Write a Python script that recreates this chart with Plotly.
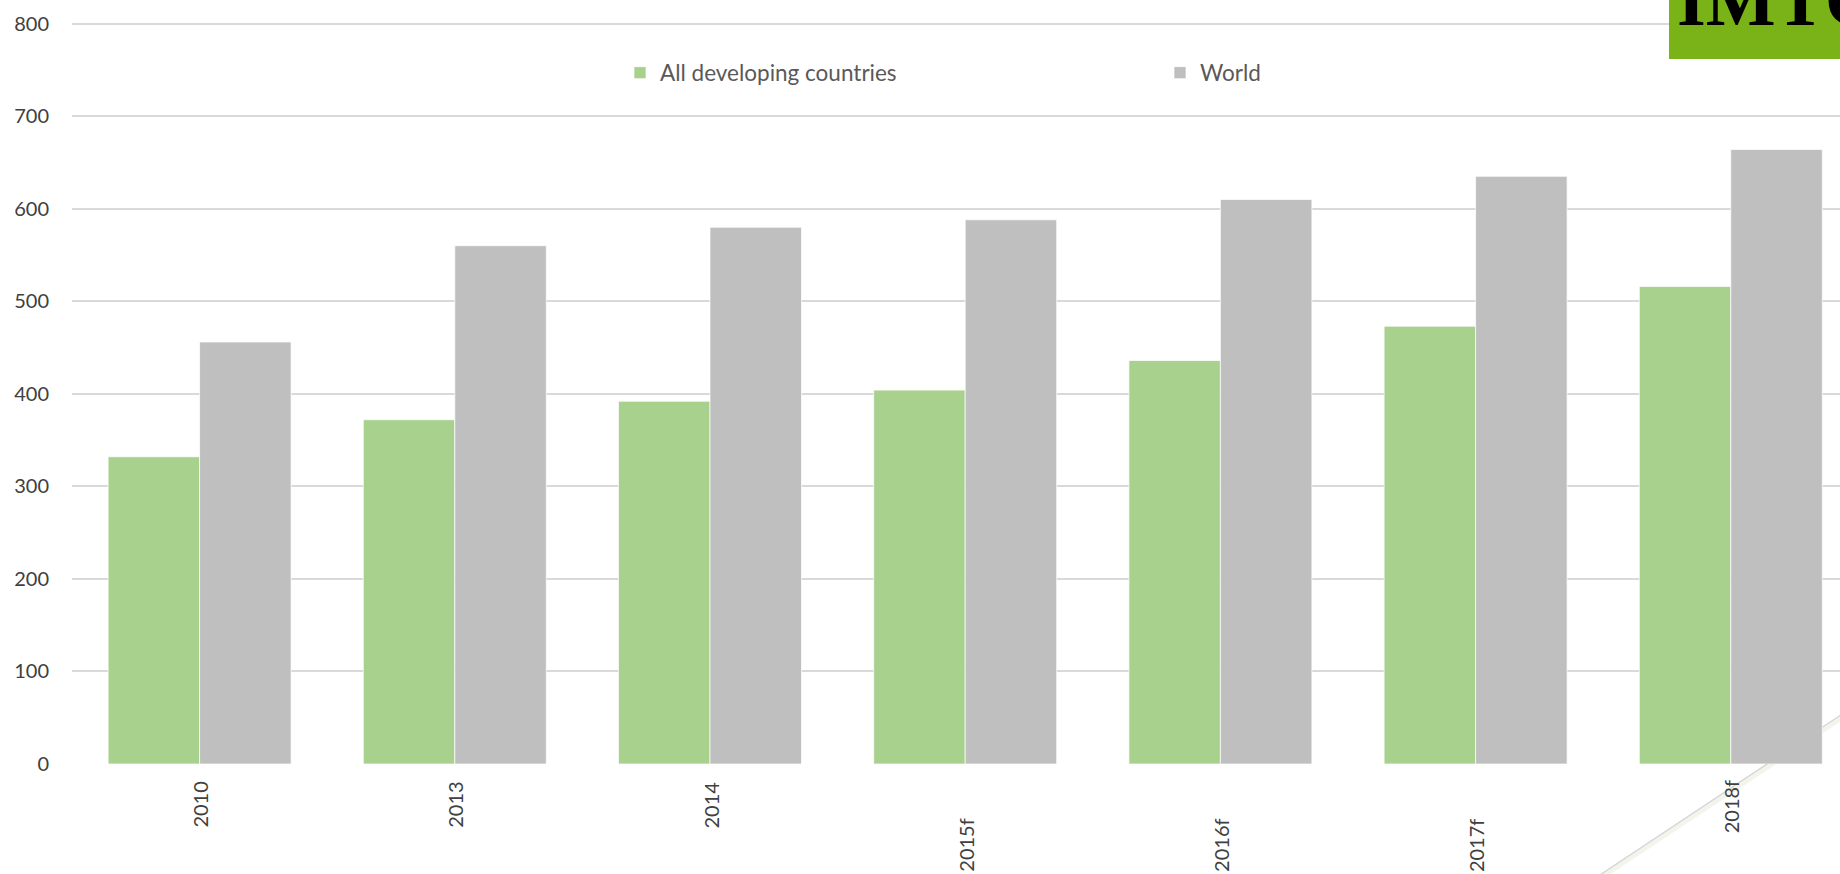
import plotly.graph_objects as go

categories = ["2010", "2013", "2014", "2015f", "2016f", "2017f", "2018f"]
developing = [332, 372, 392, 404, 436, 473, 516]
world = [456, 560, 580, 588, 610, 635, 664]
series_names = ["All developing countries", "World"]
y_ticks = [0, 100, 200, 300, 400, 500, 600, 700, 800]
logo_text = "IMTC"

# label vertical drop (px) below the axis, per category (style only)
label_drop = [16, 16, 16, 53, 53, 53, 14]

GREEN = "#A9D18E"
GRAY = "#BFBFBF"
W, H = 1840, 874
ML, MR, MT, MB = 72, 0, 19, 110
PW = W - ML - MR
PH = H - MT - MB


def px_x(p):
    return (p - ML) / PW


def px_y(p):
    return (H - MB - p) / PH


fig = go.Figure()
fig.add_trace(go.Bar(x=categories, y=developing, name=series_names[0],
                     marker=dict(color=GREEN, line=dict(color="rgba(255,255,255,0.7)", width=1))))
fig.add_trace(go.Bar(x=categories, y=world, name=series_names[1],
                     marker=dict(color=GRAY, line=dict(color="rgba(255,255,255,0.7)", width=1))))

annotations = []
for i, (cat, d) in enumerate(zip(categories, label_drop)):
    annotations.append(dict(x=i, y=0, xref="x", yref="y", text=cat, textangle=-90,
                            showarrow=False, yanchor="top", xanchor="center", yshift=-d,
                            font=dict(family="Lato", size=20, color="#404040")))
annotations.append(dict(x=px_x(1675), y=px_y(0), xref="paper", yref="paper", text="<b>%s</b>" % logo_text,
                        showarrow=False, xanchor="left", yanchor="middle",
                        font=dict(family="Liberation Serif", size=74, color="#000000")))

shapes = [
    dict(type="rect", xref="paper", yref="paper", x0=px_x(1669), x1=px_x(1850), y0=px_y(59), y1=px_y(-10),
         fillcolor="#7AB317", line=dict(width=0), layer="above"),
    dict(type="line", xref="paper", yref="paper", x0=px_x(1604), y0=px_y(876), x1=px_x(1860), y1=px_y(706),
         line=dict(color="#F1F5EC", width=4), layer="below"),
    dict(type="line", xref="paper", yref="paper", x0=px_x(1600), y0=px_y(875), x1=px_x(1856), y1=px_y(705),
         line=dict(color="#D6D6D6", width=1.5), layer="below"),
]

fig.update_layout(
    width=W, height=H,
    margin=dict(l=ML, r=MR, t=MT, b=MB, pad=0),
    paper_bgcolor="white",
    plot_bgcolor="rgba(0,0,0,0)",
    barmode="group",
    bargap=0.283,
    bargroupgap=0,
    showlegend=True,
    legend=dict(orientation="h", x=px_x(620), y=px_y(73), xanchor="left", yanchor="middle",
                entrywidth=495, entrywidthmode="pixels",
                font=dict(family="Lato", size=22.5, color="#595959"), bgcolor="rgba(0,0,0,0)"),
    xaxis=dict(type="category", range=[-0.5, -0.5 + PW / 255.2], showticklabels=False,
               showgrid=False, zeroline=False, showline=False, ticks=""),
    yaxis=dict(range=[0, 805], tickvals=y_ticks, showgrid=True, gridcolor="#D9D9D9", gridwidth=1.6,
               zeroline=False, showline=False, ticks="", ticklabelstandoff=22,
               tickfont=dict(family="Lato", size=20, color="#404040")),
    annotations=annotations,
    shapes=shapes,
)

fig.write_html("out.html")
